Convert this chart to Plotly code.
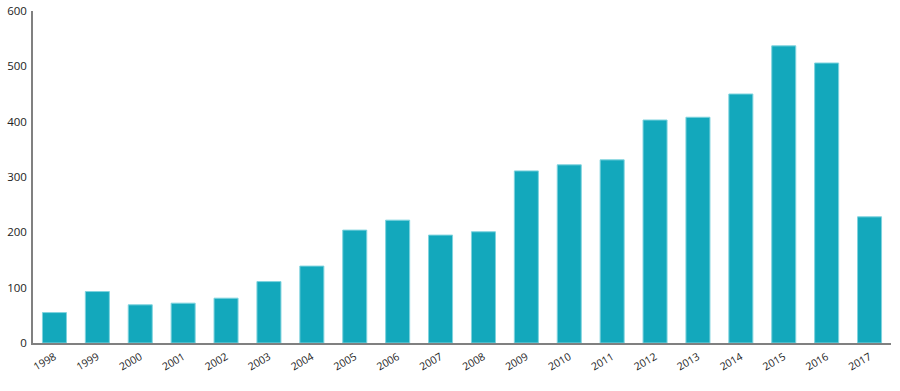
import plotly.graph_objects as go

years = ["1998", "1999", "2000", "2001", "2002", "2003", "2004", "2005", "2006", "2007",
         "2008", "2009", "2010", "2011", "2012", "2013", "2014", "2015", "2016", "2017"]
counts = [55, 93, 69, 72, 81, 111, 139, 204, 222, 195,
          201, 311, 322, 331, 403, 408, 450, 537, 506, 228]
y_ticks = [0, 100, 200, 300, 400, 500, 600]

fig = go.Figure(go.Bar(
    x=years, y=counts,
    marker=dict(color="#13A8BC", line=dict(color="#7fd3de", width=1)),
))

fig.update_layout(
    width=900, height=391,
    margin=dict(l=33, r=9, t=11, b=48),
    plot_bgcolor="white", paper_bgcolor="white",
    bargap=0.44,
    showlegend=False,
    font=dict(family="Open Sans, sans-serif", size=11, color="#222222"),
)
fig.update_xaxes(
    type="category", tickangle=-30, showgrid=False, automargin=False,
    showline=True, linecolor="#808080", linewidth=1.5,
    ticks="", tickfont=dict(size=10.5), ticklabelstandoff=2,
)
fig.update_yaxes(
    range=[0, 600], tickvals=y_ticks, showgrid=False, zeroline=False, automargin=False,
    showline=True, linecolor="#808080", linewidth=1.5,
    ticks="", tickfont=dict(size=11.5), ticklabelstandoff=2,
)

fig.write_html(
    "out.html",
    config={"displayModeBar": False},
    post_script="document.body.style.margin='0';document.body.style.overflow='hidden';",
)
